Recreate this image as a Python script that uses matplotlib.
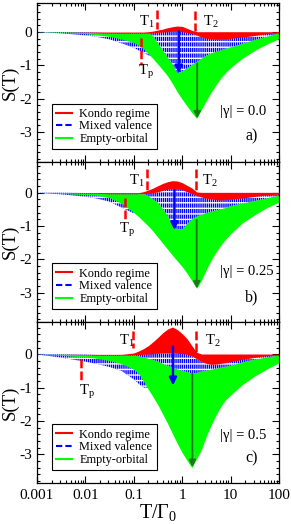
import numpy as np
import matplotlib
matplotlib.use('Agg')
import matplotlib.pyplot as plt
from matplotlib.lines import Line2D
from matplotlib.ticker import LogLocator, MultipleLocator, FixedLocator, FixedFormatter, NullFormatter

plt.rcParams['font.family'] = ['Liberation Serif', 'DejaVu Serif']
plt.rcParams['mathtext.fontset'] = 'custom'
plt.rcParams['mathtext.rm'] = 'Liberation Serif'
plt.rcParams['mathtext.it'] = 'Liberation Serif:italic'
plt.rcParams['axes.unicode_minus'] = False
plt.rcParams['hatch.linewidth'] = 1.0

# --- DATA ---
# common grid, log10(T/Gamma0)
log_t = np.array([-3, -2.5, -2, -1.75, -1.5, -1.25, -1, -0.9, -0.8, -0.7, -0.6,
                  -0.5, -0.4, -0.3, -0.2, -0.1, 0, 0.1, 0.2, 0.3, 0.4, 0.5,
                  0.6, 0.7, 0.8, 0.9, 1, 1.25, 1.5, 1.75, 2])

# panel a) |gamma| = 0.0
red_top_a = [0, 0, 0, 0, 0, 0, 0, 0, 0, 0.01, 0.03, 0.06, 0.09, 0.13, 0.16, 0.18,
             0.17, 0.11, 0.05, 0.01, 0.01, 0.01, 0.01, 0.01, 0.01, 0.01, 0.01,
             0.01, 0.01, 0.01, 0.01]
red_bot_a = [0, 0, -0.01, -0.02, -0.03, -0.03, -0.03, -0.03, -0.03, -0.03, -0.02,
             -0.01, 0.0, 0.01, 0.02, 0.02, 0.01, -0.02, -0.05, -0.09, -0.15, -0.19,
             -0.21, -0.22, -0.22, -0.21, -0.19, -0.15, -0.10, -0.05, -0.02]
blue_bot_a = [0, 0, -0.01, -0.02, -0.03, -0.03, -0.03, -0.03, -0.03, -0.03, -0.12,
              -0.34, -0.54, -0.76, -0.96, -1.24, -1.18, -1.09, -0.99, -0.90, -0.80,
              -0.71, -0.64, -0.59, -0.55, -0.50, -0.46, -0.35, -0.24, -0.14, -0.04]
band_left_a = [0, -0.04, -0.10, -0.15, -0.22, -0.34, -0.47, -0.55, -0.62, -0.70, -0.72]
green_bot_a = [0, -0.02, -0.05, -0.08, -0.13, -0.21, -0.32, -0.40, -0.50, -0.65,
               -0.80, -0.97, -1.14, -1.32, -1.55, -1.80, -2.02, -2.22, -2.42, -2.59,
               -2.32, -2.05, -1.80, -1.58, -1.38, -1.21, -1.07, -0.78, -0.55, -0.36, -0.20]

# panel b) |gamma| = 0.25
red_top_b = [0, 0, 0, 0, 0, 0, 0, 0, 0.03, 0.08, 0.14, 0.21, 0.28, 0.33, 0.36, 0.35,
             0.30, 0.22, 0.14, 0.02, 0.01, 0.01, 0.01, 0.01, 0.01, 0.01, 0.01,
             0.01, 0.01, 0.01, 0.01]
red_bot_b = [0, 0, -0.01, -0.02, -0.03, -0.03, -0.03, -0.03, -0.03, -0.02, 0.0,
             0.03, 0.07, 0.11, 0.13, 0.12, 0.08, 0.03, -0.03, -0.09, -0.13, -0.17,
             -0.19, -0.21, -0.22, -0.21, -0.20, -0.16, -0.11, -0.07, -0.04]
blue_bot_b = [0, 0, -0.01, -0.02, -0.03, -0.03, -0.03, -0.03, -0.03, -0.10, -0.20,
              -0.30, -0.48, -0.69, -0.98, -1.10, -1.10, -0.94, -0.80, -0.72, -0.66,
              -0.61, -0.57, -0.53, -0.50, -0.46, -0.40, -0.32, -0.25, -0.17, -0.09]
band_left_b = [0, -0.05, -0.12, -0.18, -0.27, -0.45, -0.62]
green_bot_b = [0, -0.02, -0.06, -0.08, -0.15, -0.32, -0.60, -0.72, -0.86, -1.00,
               -1.16, -1.34, -1.52, -1.70, -1.88, -2.05, -2.22, -2.42, -2.64, -2.87,
               -2.62, -2.30, -2.02, -1.78, -1.57, -1.39, -1.23, -0.90, -0.66, -0.45, -0.28]

# panel c) |gamma| = 0.5
red_top_c = [0, 0, 0, 0, 0, 0, 0.04, 0.10, 0.17, 0.26, 0.38, 0.51, 0.65, 0.76, 0.82,
             0.74, 0.62, 0.47, 0.26, 0.06, 0.01, 0.01, 0.01, 0.01, 0.01, 0.01, 0.01,
             0.01, 0.01, 0.01, 0.01]
red_bot_c = [0, 0, -0.01, -0.02, -0.02, -0.02, -0.02, -0.01, 0.0, 0.01, 0.02, 0.03,
             0.04, 0.04, 0.04, 0.03, 0.02, 0.0, -0.05, -0.13, -0.22, -0.27, -0.30,
             -0.29, -0.27, -0.25, -0.22, -0.15, -0.09, -0.04, -0.02]
blue_bot_c = [0, 0, -0.01, -0.02, -0.02, -0.02, -0.03, -0.06, -0.09, -0.13, -0.17,
              -0.22, -0.28, -0.34, -0.40, -0.45, -0.49, -0.53, -0.57, -0.56, -0.52,
              -0.49, -0.46, -0.43, -0.40, -0.37, -0.34, -0.24, -0.16, -0.09, -0.04]
band_left_c = [0, -0.10, -0.22, -0.29, -0.38, -0.50, -0.75, -0.88, -1.0, -1.0]
green_bot_c = [0, -0.03, -0.08, -0.12, -0.19, -0.28, -0.45, -0.58, -0.80, -1.05,
               -1.28, -1.52, -1.80, -2.08, -2.38, -2.68, -2.95, -3.18, -3.40, -3.12,
               -2.85, -2.45, -2.12, -1.82, -1.56, -1.36, -1.22, -0.90, -0.65, -0.44, -0.25]

# annotations (log10 T, S)
blue_arrow = [(-0.07, 0.02, -1.24), (-0.16, 0.08, -1.12), (-0.19, 0.23, -0.93)]
green_arrow = [(0.31, -0.94, -2.59), (0.30, -0.82, -2.87), (0.21, -0.57, -3.38)]
t1_mark = [(-0.53, 0.66, 0.08), (-0.73, 0.72, 0.04), (-1.015, 0.70, 0.18)]
t2_mark = [(0.26, 0.62, 0.02), (0.29, 0.72, 0.04), (0.29, 0.70, 0.08)]
tp_mark = [(-0.85, -0.19, -0.99), (-1.19, -0.17, -0.87), (-2.09, -0.15, -0.82)]
t1_text = [(-0.795, 0.31), (-1.0, 0.38), (-1.21, 0.43)]
t2_text = [(0.52, 0.31), (0.506, 0.38), (0.555, 0.43)]
tp_text = [(-0.83, -1.14), (-1.21, -1.07), (-2.04, -1.07)]
gamma_labels = ['|γ| = 0.0', '|γ| = 0.25', '|γ| = 0.5']
gamma_y = [-2.39, -2.35, -2.42]
panel_tags = ['a)', 'b)', 'c)']
ylims = [(-3.9, 0.87), (-3.88, 0.92), (-3.86, 0.97)]
x_ticks = [0.001, 0.01, 0.1, 1, 10, 100]
x_ticklabels = ['0.001', '0.01', '0.1', '1', '10', '100']

RED = '#ff0000'
BLUE = '#0000ff'
GREEN = '#00ff00'
DKGREEN = '#1c761c'

T = 10.0 ** log_t

fig = plt.figure(figsize=(2.91, 5.24), dpi=100)
axes_pos = [[0.1271, 0.6908, 0.8316, 0.3034],
            [0.1271, 0.3855, 0.8316, 0.3053],
            [0.1271, 0.0782, 0.8316, 0.3073]]

panels = [
    (red_top_a, red_bot_a, blue_bot_a, band_left_a, green_bot_a),
    (red_top_b, red_bot_b, blue_bot_b, band_left_b, green_bot_b),
    (red_top_c, red_bot_c, blue_bot_c, band_left_c, green_bot_c),
]


def hatched(ax, y1, y2):
    # blue dashed family look: dense vertical blue hatch broken by white lines
    ax.fill_between(T, y1, y2, facecolor='white', edgecolor=BLUE,
                    hatch='||||||||', linewidth=0, zorder=2)
    ax.fill_between(T, y1, y2, facecolor='none', edgecolor='white',
                    hatch='---', linewidth=0, zorder=2)


for i, (rt, rb, bb, band, gb) in enumerate(panels):
    ax = fig.add_axes(axes_pos[i])
    rt, rb, bb, gb = map(np.asarray, (rt, rb, bb, gb))
    band_bot = np.concatenate([band, rb[len(band):]])

    # left band of mixed-valence curves (under the green)
    hatched(ax, rb, band_bot)
    # empty-orbital family
    ax.fill_between(T, rb, gb, color=GREEN, linewidth=0, zorder=2)
    # mixed-valence family
    hatched(ax, rb, bb)
    # Kondo family
    ax.fill_between(T, rt, rb, color=RED, linewidth=0, zorder=3)

    # arrows
    bx, by0, by1 = blue_arrow[i]
    ax.annotate('', xy=(10 ** bx, by1), xytext=(10 ** bx, by0),
                arrowprops=dict(arrowstyle='-|>', color=BLUE, lw=1.7,
                                mutation_scale=11, shrinkA=0, shrinkB=0), zorder=5)
    gx, gy0, gy1 = green_arrow[i]
    ax.annotate('', xy=(10 ** gx, gy1), xytext=(10 ** gx, gy0),
                arrowprops=dict(arrowstyle='-|>', color=DKGREEN, lw=1.3,
                                mutation_scale=10, shrinkA=0, shrinkB=0), zorder=5)

    # temperature markers
    for mk in (t1_mark[i], t2_mark[i], tp_mark[i]):
        ax.plot([10 ** mk[0]] * 2, [mk[1], mk[2]], color=RED, lw=1.8,
                linestyle=(0, (3.5, 1.3)), solid_capstyle='butt', zorder=6)
    for txt, pos in zip(['T$_1$', 'T$_2$', 'T$_\\mathregular{p}$'],
                        (t1_text[i], t2_text[i], tp_text[i])):
        ax.text(10 ** (pos[0] - 0.09), pos[1] - 0.14, txt, fontsize=10.5,
                ha='left', va='baseline', zorder=7)

    ax.text(10 ** 0.79, gamma_y[i], gamma_labels[i], fontsize=10.5,
            ha='left', va='center', zorder=7)
    ax.text(10 ** 1.44, -3.13, panel_tags[i], fontsize=11.5,
            ha='center', va='center', zorder=7)

    handles = [Line2D([], [], color=RED, lw=1.5),
               Line2D([], [], color=BLUE, lw=1.5, linestyle=(0, (3, 1.5))),
               Line2D([], [], color=GREEN, lw=1.5)]
    leg = ax.legend(handles, ['Kondo regime', 'Mixed valence', 'Empty-orbital'],
                    loc='lower left', bbox_to_anchor=(0.061, 0.08),
                    borderaxespad=0, fancybox=False, framealpha=1,
                    edgecolor='black', fontsize=8.8, handlelength=1.3,
                    handletextpad=0.6, borderpad=0.35, labelspacing=0.05)
    leg.get_frame().set_linewidth(0.8)
    leg.set_zorder(8)

    ax.set_xscale('log')
    ax.set_xlim(1e-3, 1e2)
    ax.set_ylim(*ylims[i])
    ax.xaxis.set_major_locator(FixedLocator(x_ticks))
    ax.xaxis.set_minor_locator(LogLocator(base=10, subs=np.arange(2, 10), numticks=20))
    ax.xaxis.set_minor_formatter(NullFormatter())
    if i == 2:
        ax.xaxis.set_major_formatter(FixedFormatter(x_ticklabels))
        ax.set_xlabel('T/Γ$_0$', fontsize=14.5, labelpad=0)
    else:
        ax.xaxis.set_major_formatter(NullFormatter())
    ax.yaxis.set_major_locator(MultipleLocator(1))
    ax.yaxis.set_minor_locator(MultipleLocator(0.2))
    ax.tick_params(which='both', direction='in', top=True, right=True,
                   labelsize=11, width=0.8)
    ax.tick_params(which='major', length=5)
    ax.tick_params(which='minor', length=2.5)
    ax.tick_params(axis='x', pad=4)
    ax.set_ylabel('S(T)', fontsize=13.5)
    ax.yaxis.set_label_coords(-0.075, 0.5)
    for s in ax.spines.values():
        s.set_linewidth(0.9)

fig.savefig('out.png', dpi=100)
